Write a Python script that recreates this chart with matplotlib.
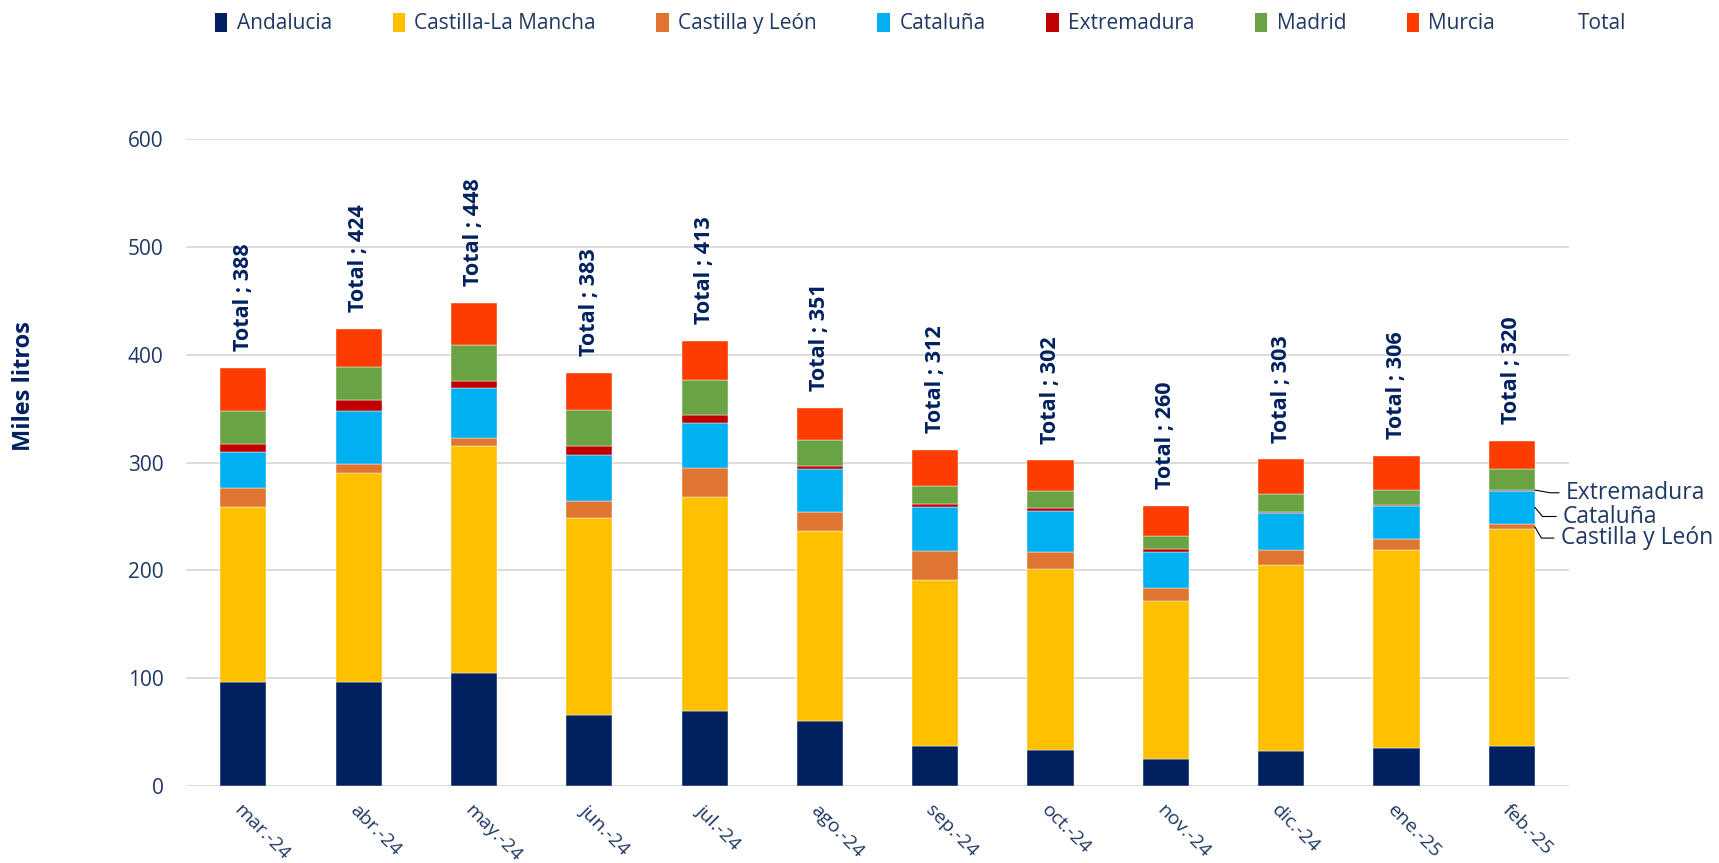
import matplotlib.pyplot as plt
from matplotlib.patches import Patch
import numpy as np

plt.rcParams['font.family'] = ['Open Sans', 'DejaVu Sans']

meses = ['mar.-24', 'abr.-24', 'may.-24', 'jun.-24', 'jul.-24', 'ago.-24',
         'sep.-24', 'oct.-24', 'nov.-24', 'dic.-24', 'ene.-25', 'feb.-25']

andalucia = [97, 97, 105, 66, 70, 60, 37, 34, 25, 33, 35, 37]
castilla_la_mancha = [162, 193, 210, 183, 198, 177, 154, 167, 147, 172, 184, 201]
castilla_y_leon = [17, 9, 8, 15, 27, 17, 27, 16, 12, 14, 10, 5]
cataluna = [34, 49, 46, 43, 42, 40, 41, 38, 33, 34, 31, 31]
extremadura = [7, 10, 7, 8, 7, 3, 3, 3, 3, 1, 1, 1]
madrid = [31, 31, 33, 34, 33, 24, 16, 16, 12, 17, 14, 19]
murcia = [40, 35, 39, 34, 36, 30, 34, 28, 28, 32, 31, 26]
totales = [388, 424, 448, 383, 413, 351, 312, 302, 260, 303, 306, 320]

series = [
    ('Andalucia', andalucia, '#002060'),
    ('Castilla-La Mancha', castilla_la_mancha, '#FFC000'),
    ('Castilla y León', castilla_y_leon, '#DF7530'),
    ('Cataluña', cataluna, '#00B0F0'),
    ('Extremadura', extremadura, '#C00000'),
    ('Madrid', madrid, '#6AA343'),
    ('Murcia', murcia, '#FF3C00'),
]

navy = '#1F3864'
dark = '#002060'

fig = plt.figure(figsize=(17.19, 8.63), dpi=100)
ax = fig.add_axes([0.108, 0.089, 0.805, 0.750])

x = np.arange(len(meses))
ancho = 0.40
base = np.zeros(len(meses))
handles = []
for nombre, vals, col in series:
    vals = np.array(vals, dtype=float)
    ax.bar(x, vals, ancho, bottom=base, color=col, edgecolor='white', linewidth=0.3)
    handles.append(Patch(facecolor=col, label=nombre))
    base += vals
handles.append(Patch(facecolor='none', edgecolor='none', label='Total'))

# etiquetas de total
for i, t in enumerate(totales):
    ax.annotate(f'Total ; {t}', xy=(i, base[i]), xytext=(0, 12),
                textcoords='offset points', rotation=90, ha='center', va='bottom',
                fontsize=15.5, fontweight='bold', color=dark)

# etiquetas de las series pequeñas en la última barra
ult = len(meses) - 1
cum = np.cumsum([s[1][ult] for s in series])
etiquetas = [('Extremadura', 4, 272, 11.47, -10),
             ('Cataluña', 3, 250, 11.445, -50),
             ('Castilla y León', 2, 230, 11.425, -60)]
for txt, k, ytxt, xtxt, ang in etiquetas:
    ymid = cum[k] - series[k][1][ult] / 2
    ax.annotate(txt, xy=(ult + ancho / 2, ymid), xytext=(xtxt, ytxt),
                textcoords='data', ha='left', va='center', fontsize=16.5, color=navy,
                annotation_clip=False,
                arrowprops=dict(arrowstyle='-', color='black', lw=0.8, relpos=(0, 0.5),
                                shrinkA=3, shrinkB=0,
                                connectionstyle=f'angle,angleA=0,angleB={ang},rad=0'))

ax.set_ylim(0, 600)
ax.set_xlim(-0.5, len(meses) - 0.5)
ax.set_yticks(range(0, 601, 100))
ax.set_xticks(x)
ax.set_xticklabels(meses, rotation=-45, ha='left', va='top', rotation_mode='anchor')
ax.tick_params(axis='both', length=0, labelcolor=navy)
ax.tick_params(axis='y', pad=16, labelsize=15)
ax.tick_params(axis='x', pad=11, labelsize=14)
ax.grid(axis='y', color='#D9D9D9', linewidth=1.3)
ax.set_axisbelow(True)
for s in ax.spines.values():
    s.set_visible(False)

fig.text(0.014, 0.553, 'Miles litros', rotation=90, ha='center', va='center',
         fontsize=17, fontweight='bold', color=dark)

fig.legend(handles=handles, loc='upper left', bbox_to_anchor=(0.119, 0.997), ncol=8,
           frameon=False, fontsize=15, labelcolor=navy, handlelength=0.6,
           handleheight=1.0, handletextpad=0.45, columnspacing=2.9, borderpad=0)

fig.savefig('out.png', dpi=100)
